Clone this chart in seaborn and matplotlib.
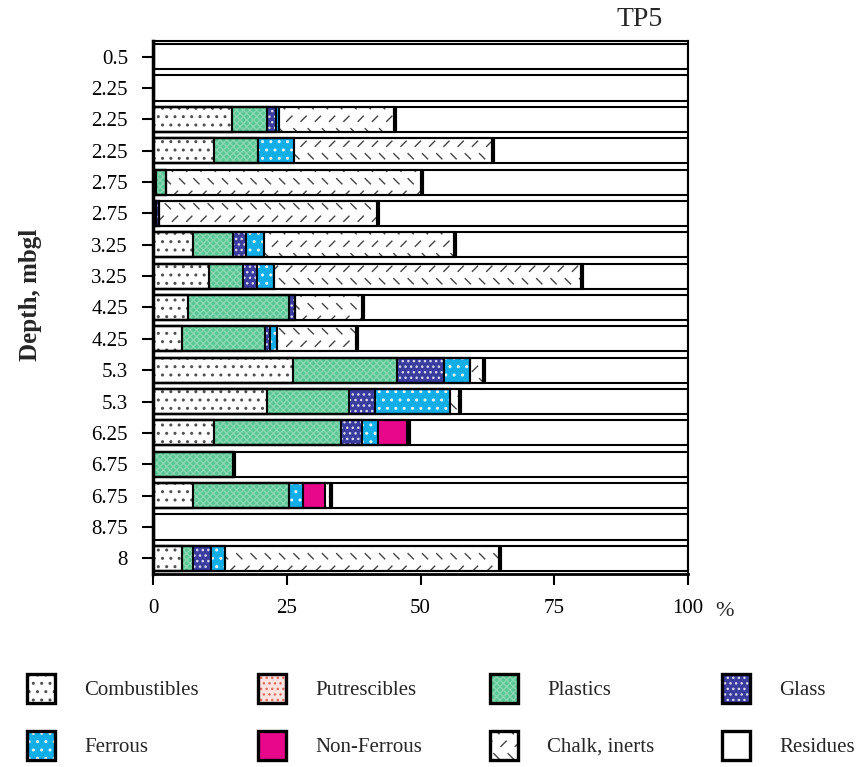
import numpy as np
import matplotlib
matplotlib.use("Agg")
import matplotlib.pyplot as plt
import matplotlib.hatch as mhatch
from matplotlib.path import Path
from matplotlib.patches import Patch
from matplotlib.legend_handler import HandlerTuple
import seaborn as sns

# ---- data: composition (%) of each sample, top to bottom ----
depths = ["0.5", "2.25", "2.25", "2.25", "2.75", "2.75", "3.25", "3.25", "4.25",
          "4.25", "5.3", "5.3", "6.25", "6.75", "6.75", "8.75", "8"]
combustibles = [0, 0, 14.8, 11.4, 0.5, 0.6, 7.4, 10.4, 6.6, 5.4, 26.1, 21.4, 11.4, 0, 7.4, 0, 5.5]
putrescibles = [0, 0, 0, 0, 0, 0, 0, 0, 0, 0, 0, 0, 0, 0, 0, 0, 0]
plastics = [0, 0, 6.6, 8.2, 1.9, 0, 7.5, 6.5, 18.8, 15.6, 19.5, 15.2, 23.7, 15.1, 18.0, 0, 1.9]
glass = [0, 0, 1.5, 0, 0, 0.6, 2.4, 2.5, 1.1, 0.9, 8.8, 4.9, 3.9, 0, 0, 0, 3.5]
ferrous = [0, 0, 0.6, 6.7, 0, 0, 3.5, 3.3, 0, 1.3, 4.9, 14.0, 3.0, 0, 2.6, 0, 2.6]
non_ferrous = [0, 0, 0, 0, 0, 0, 0, 0, 0, 0, 0, 0, 5.4, 0, 4.1, 0, 0]
chalk_inerts = [0, 0, 21.7, 37.3, 47.8, 40.9, 35.7, 57.5, 12.7, 15.0, 2.5, 1.9, 0.5, 0, 1.2, 0, 51.3]
residues = [100, 100, 54.8, 36.4, 49.8, 57.9, 43.5, 19.8, 60.8, 61.8, 38.2, 42.6, 52.1, 84.9, 66.7, 100, 35.2]
x_ticks = [0, 25, 50, 75, 100]


# ---- custom hatch: short alternating diagonal dashes (used via 'o') ----
class DashHatch(mhatch.HatchPatternBase):
    def __init__(self, hatch, density):
        count = hatch.count('o')
        self.n_cols = 7 * count
        self.n_rows = 8 * count
        self.num_vertices = self.n_cols * self.n_rows * 2

    def set_vertices_and_codes(self, vertices, codes):
        sx = 1.0 / self.n_cols
        sy = 1.0 / self.n_rows
        h = 0.026
        k = 0
        for r in range(self.n_rows):
            y = (r + 0.5) * sy
            for c in range(self.n_cols):
                if r % 2 == 0:
                    x = (c + 0.25) * sx
                    p0, p1 = (x - h, y - h), (x + h, y + h)
                else:
                    x = (c + 0.75) * sx
                    p0, p1 = (x - h, y + h), (x + h, y - h)
                vertices[k] = p0
                vertices[k + 1] = p1
                codes[k] = Path.MOVETO
                codes[k + 1] = Path.LINETO
                k += 2


mhatch._hatch_types = [DashHatch if t is mhatch.SmallCircles else t
                       for t in mhatch._hatch_types]

sns.set_style("white")
plt.rcParams['font.family'] = ['Liberation Serif', 'DejaVu Serif']
plt.rcParams['hatch.linewidth'] = 1.0

# name, values, face colour, hatch, hatch colour
components = [
    ("Combustibles", combustibles, "white", "..", "#505050"),
    ("Putrescibles", putrescibles, "#fde3df", "...", "#e06a60"),
    ("Plastics", plastics, "#5cc594", "xxxxx", "#86d9b2"),
    ("Glass", glass, "#3b3d9e", "...", "#d8d8f0"),
    ("Ferrous", ferrous, "#12aee8", "..", "#e8f8ff"),
    ("Non-Ferrous", non_ferrous, "#e8078b", None, "#e8078b"),
    ("Chalk, inerts", chalk_inerts, "white", "o", "#444444"),
    ("Residues", residues, "white", None, "white"),
]

rows = [f"s{i}" for i in range(len(depths))]
cum = np.cumsum(np.array([c[1] for c in components], dtype=float), axis=0)

fig = plt.figure(figsize=(8.67, 7.67), dpi=100)
ax = fig.add_axes([153 / 867, 1 - 574 / 767, 535 / 867, 533 / 767])

# stacked bars: draw cumulative totals from the outermost layer inwards
for i in reversed(range(len(components))):
    name, vals, face, hatch, hc = components[i]
    sns.barplot(x=cum[i], y=rows, order=rows, orient="h", color=face,
                saturation=1, width=0.8, linewidth=0, ax=ax)
    for p in ax.containers[-1]:
        p.set_hatch(hatch)
        p.set_edgecolor(hc)
        p.set_linewidth(0)

# black outlines of every segment boundary
for i in reversed(range(len(components))):
    sns.barplot(x=cum[i], y=rows, order=rows, orient="h", fill=False,
                color="black", linewidth=1.5, width=0.8, ax=ax)

# heavier line at the end of the sorted fraction
ypos = np.arange(len(rows))
ax.vlines(cum[-2], ypos - 0.4, ypos + 0.4, color="black", linewidth=3)

ax.set_xlim(0, 100)
ax.set_ylim(len(rows) - 0.5, -0.5)
ax.set_xticks(x_ticks)
ax.set_xticklabels([str(t) for t in x_ticks])
ax.set_yticks(ypos)
ax.set_yticklabels(depths)
ax.set_xlabel("")
ax.set_ylabel("Depth, mbgl", fontweight="bold", fontsize=18)
ax.yaxis.set_label_coords(-0.208, 0.523)
ax.tick_params(axis="both", direction="out", length=8, width=1.5,
               color="black", labelsize=15, pad=10, left=True, bottom=True,
               labelcolor="black")
for sp in ax.spines.values():
    sp.set_visible(True)
    sp.set_color("black")
    sp.set_linewidth(1.5)
ax.spines["left"].set_linewidth(2.5)
ax.spines["bottom"].set_linewidth(2.0)
ax.grid(False)

fig.text(640 / 867, 1 - 20 / 767, "TP5", ha="center", va="center", fontsize=20)
fig.text(725 / 867, 1 - 612 / 767, "%", ha="center", va="center", fontsize=16)

# legend: four columns of two entries each
handles = []
for name, vals, face, hatch, hc in components:
    fill = Patch(facecolor=face, edgecolor=hc, hatch=hatch, linewidth=0)
    edge = Patch(facecolor="none", edgecolor="black", linewidth=2.4)
    handles.append(((fill, edge), name))

col_x = [27, 258, 490, 722]
for c in range(4):
    pair = [handles[c], handles[c + 4]]
    fig.legend([h for h, _ in pair], [n for _, n in pair],
               handler_map={tuple: HandlerTuple(ndivide=1, pad=0)},
               loc="upper left", bbox_to_anchor=(col_x[c] / 867, 1 - 674 / 767),
               frameon=False, borderpad=0, borderaxespad=0, fontsize=15,
               handlelength=1.35, handleheight=1.8, handletextpad=1.4,
               labelspacing=1.3)

fig.savefig("out.png", dpi=100)
